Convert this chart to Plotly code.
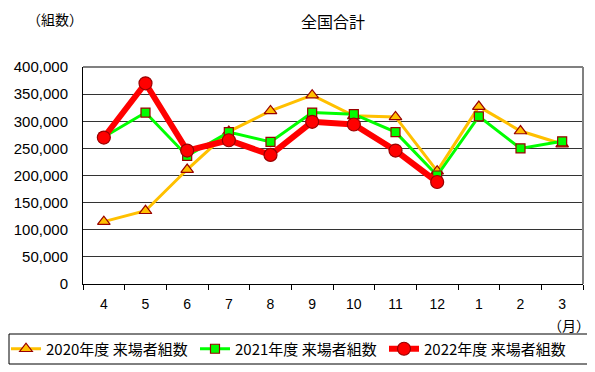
import plotly.graph_objects as go

months = ["4", "5", "6", "7", "8", "9", "10", "11", "12", "1", "2", "3"]
y2020 = [115000, 135000, 211000, 281000, 319000, 348000, 310000, 308000, 208000, 327000, 282000, 258000]
y2021 = [271000, 316000, 236000, 280000, 262000, 316000, 313000, 280000, 200000, 309000, 250000, 263000]
y2022 = [270000, 370000, 246000, 265000, 238000, 299000, 294000, 246000, 188000]
names = ["2020年度 来場者組数", "2021年度 来場者組数", "2022年度 来場者組数"]

FONT = "Noto Sans CJK JP, Liberation Sans, Arial"
NUMFONT = "Liberation Sans, Arial"
MK_LINE = "#990000"

# page has an 8px body margin: figure starts at screen (8, 8)
OFF = 8
PL, PR, PT, PB = 83, 583, 67, 284  # plot area in screen pixels
W, H = 595 - OFF, 372 - OFF


def px(sx):
    return (sx - PL) / (PR - PL)


def py(sy):
    return (PB - sy) / (PB - PT)


fig = go.Figure()
fig.add_trace(go.Scatter(
    x=months, y=y2020, name=names[0], mode="lines+markers",
    line=dict(color="#FFC000", width=3),
    marker=dict(symbol="triangle-up", size=11, color="#FFC000", line=dict(color=MK_LINE, width=1.2)),
))
fig.add_trace(go.Scatter(
    x=months, y=y2021, name=names[1], mode="lines+markers",
    line=dict(color="#00FF00", width=3),
    marker=dict(symbol="square", size=9, color="#00FF00", line=dict(color=MK_LINE, width=1.2)),
))
fig.add_trace(go.Scatter(
    x=months[:len(y2022)], y=y2022, name=names[2], mode="lines+markers",
    line=dict(color="#FF0000", width=6),
    marker=dict(symbol="circle", size=13, color="#FF0000", line=dict(color=MK_LINE, width=1.2)),
))

fig.update_layout(
    width=W, height=H,
    margin=dict(l=PL - OFF, r=W - (PR - OFF), t=PT - OFF, b=H - (PB - OFF), autoexpand=False),
    paper_bgcolor="white", plot_bgcolor="white",
    font=dict(family=FONT, size=13, color="black"),
    title=dict(text="全国合計", x=0.5, xanchor="center", xref="paper",
               yref="container", y=1 - (22 - OFF) / H, yanchor="middle",
               font=dict(size=16, family=FONT)),
    showlegend=True,
    legend=dict(orientation="h", xref="paper", x=px(6), xanchor="left",
                yref="paper", y=py(349), yanchor="middle",
                borderwidth=0, bgcolor="rgba(0,0,0,0)",
                font=dict(size=15, family=FONT), entrywidth=144, entrywidthmode="pixels",
                itemwidth=30, tracegroupgap=0),
)
fig.update_xaxes(
    type="category", categoryorder="array", categoryarray=months,
    showline=True, linecolor="black", linewidth=1,
    ticks="outside", tickson="boundaries", ticklen=5, tickcolor="black",
    ticklabelstandoff=7,
    showgrid=False, tickfont=dict(size=14, family=NUMFONT), range=[-0.5, 11.5],
)
fig.update_yaxes(
    range=[0, 400000], dtick=50000, tickformat=",",
    showline=True, linecolor="black", linewidth=1,
    showgrid=True, gridcolor="#333333", gridwidth=1,
    ticks="", ticklabelstandoff=11, tickfont=dict(size=15, family=NUMFONT), zeroline=False,
)
# gray top/right frame
fig.add_shape(type="line", xref="paper", yref="paper", x0=0, x1=1, y0=1, y1=1,
              line=dict(color="#808080", width=2))
fig.add_shape(type="line", xref="paper", yref="paper", x0=1, x1=1, y0=0, y1=1,
              line=dict(color="#808080", width=2))
# legend frame
fig.add_shape(type="rect", xref="paper", yref="paper", x0=px(9), x1=px(589), y0=py(334), y1=py(364),
              line=dict(color="black", width=1), fillcolor="rgba(0,0,0,0)")
fig.add_annotation(text="（組数）", xref="paper", yref="paper", x=px(55), y=py(19),
                   xanchor="center", yanchor="middle", showarrow=False, font=dict(size=14))
fig.add_annotation(text="（月）", xref="paper", yref="paper", x=px(592), y=py(325),
                   xanchor="right", yanchor="middle", showarrow=False, font=dict(size=14))

fig.write_html("out.html")
